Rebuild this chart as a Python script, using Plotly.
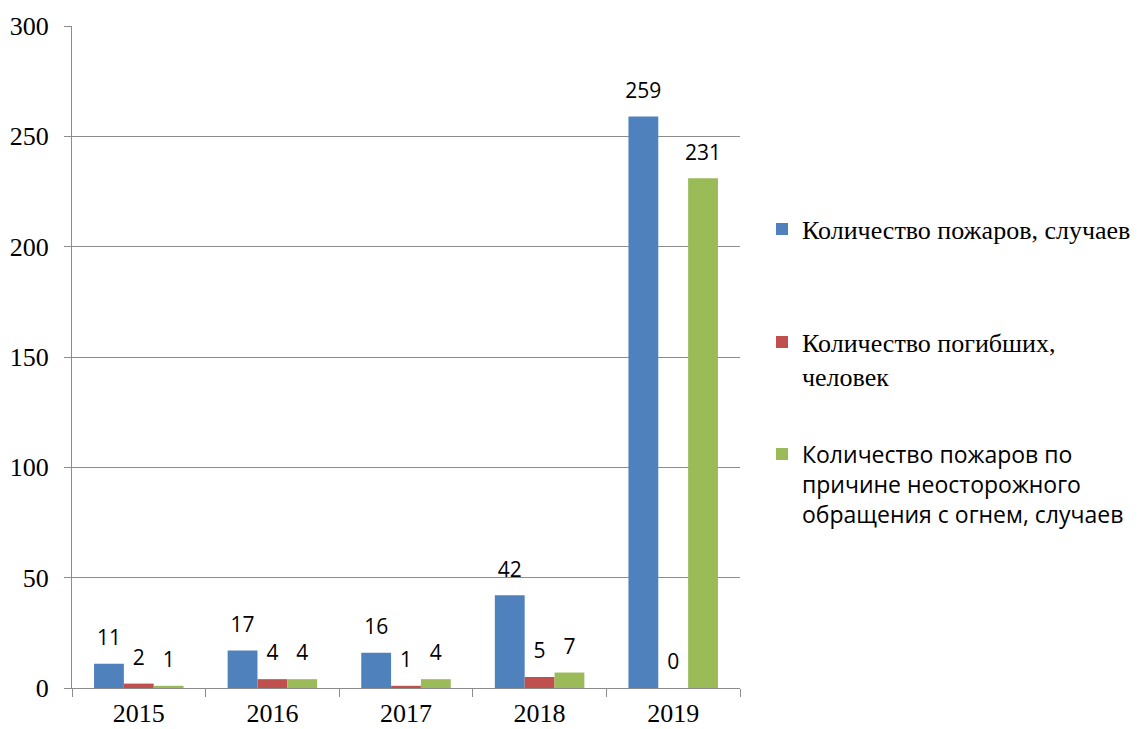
import plotly.graph_objects as go

years = ["2015", "2016", "2017", "2018", "2019"]
fires = [11, 17, 16, 42, 259]
deaths = [2, 4, 1, 5, 0]
careless = [1, 4, 4, 7, 231]
names = [
    "Количество пожаров, случаев",
    "Количество погибших,<br>человек",
    "Количество пожаров по<br>причине неосторожного<br>обращения с огнем, случаев",
]
colors = ["#4F81BD", "#C0504D", "#9BBB59"]
series = [fires, deaths, careless]
y_ticks = [0, 50, 100, 150, 200, 250, 300]

SERIF = "Liberation Serif"
SANS = "Open Sans"
GAP = 0.33

fig = go.Figure()
legends = ["legend", "legend2", "legend3"]
for i, (vals, nm, col) in enumerate(zip(series, names, colors)):
    fig.add_trace(go.Bar(
        x=years, y=vals, name=nm, marker=dict(color=col, line=dict(width=0)),
        offsetgroup=str(i), legend=legends[i], hoverinfo="skip",
    ))
for i, vals in enumerate(series):
    fig.add_trace(go.Scatter(
        x=years, y=vals, mode="markers+text", text=[str(v) for v in vals],
        textposition="top center", offsetgroup=str(i), showlegend=False,
        marker=dict(size=20, color="rgba(0,0,0,0)"),
        textfont=dict(family=SANS, size=21, color="black"),
        cliponaxis=False, hoverinfo="skip",
    ))

leg_common = dict(xref="container", yref="container", xanchor="left",
                  yanchor="middle", valign="top", bgcolor="rgba(0,0,0,0)",
                  borderwidth=0)

fig.update_layout(
    width=1139, height=729,
    margin=dict(l=72, r=399, t=26, b=41),
    paper_bgcolor="white", plot_bgcolor="white",
    barmode="group", bargap=GAP, bargroupgap=0,
    scattermode="group", scattergap=GAP,
    xaxis=dict(
        type="category", showline=True, linecolor="#8c8c8c", linewidth=1,
        ticks="outside", tickson="boundaries", ticklen=8, tickcolor="#8c8c8c",
        showgrid=False, tickfont=dict(family=SERIF, size=26, color="black"),
        ticklabelstandoff=2, fixedrange=True, automargin=False,
    ),
    yaxis=dict(
        range=[0, 300], tickvals=y_ticks, showline=True, linecolor="#8c8c8c",
        linewidth=1, ticks="outside", ticklen=7, tickcolor="#8c8c8c",
        showgrid=True, gridcolor="#8c8c8c", gridwidth=1, zeroline=False,
        tickfont=dict(family=SERIF, size=26, color="black"),
        ticklabelstandoff=10, fixedrange=True, automargin=False,
    ),
    legend=dict(x=762 / 1139, y=1 - 229 / 729,
                font=dict(family=SERIF, size=26, color="black"), **leg_common),
    legend2=dict(x=762 / 1139, y=1 - 359 / 729,
                 font=dict(family=SERIF, size=26, color="black"), **leg_common),
    legend3=dict(x=762 / 1139, y=1 - 484 / 729,
                 font=dict(family=SANS, size=23, color="black"), **leg_common),
)

fig.write_html("out.html", post_script="document.body.style.margin='0';",
               config={"displayModeBar": False})
